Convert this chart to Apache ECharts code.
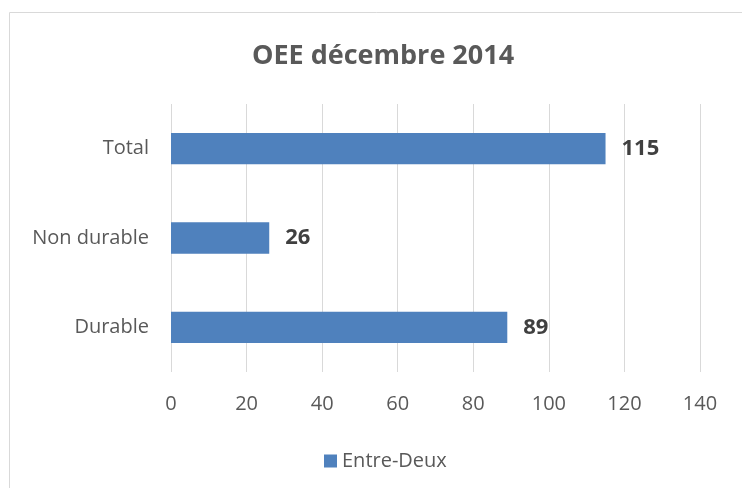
<!DOCTYPE html>
<html><head><meta charset="utf-8">
<script src="https://cdn.jsdelivr.net/npm/echarts@6/dist/echarts.min.js"></script>
<style>html,body{margin:0;padding:0;background:#fff}#c{width:742px;height:488px}</style>
</head><body><div id="c"></div>
<script>
const categories = ['Durable', 'Non durable', 'Total'];
const values = [89, 26, 115];
const seriesName = 'Entre-Deux';
const titleText = 'OEE décembre 2014';

const chart = echarts.init(document.getElementById('c'), null, {renderer: 'canvas'});
const font = '"Open Sans", "Noto Sans", sans-serif';
chart.setOption({
  animation: false,
  title: {text: titleText, left: 378, top: 38, textAlign: 'center',
    textStyle: {fontFamily: font, fontSize: 27, fontWeight: 'bold', color: '#595959'}},
  graphic: [{type: 'rect', shape: {x: 9.5, y: 12.5, width: 760, height: 500},
    style: {fill: 'none', stroke: '#d9d9d9', lineWidth: 1}, silent: true}],
  grid: {left: 171, right: 42, top: 104, bottom: 116},
  legend: {data: [seriesName], left: 319, top: 446, itemWidth: 13, itemHeight: 13, itemGap: 5,
    icon: 'rect', textStyle: {fontFamily: font, fontSize: 20, color: '#595959'}},
  xAxis: {type: 'value', min: 0, max: 140, interval: 20,
    axisLine: {show: false}, axisTick: {show: false},
    splitLine: {lineStyle: {color: '#d9d9d9', width: 1}},
    axisLabel: {fontFamily: font, fontSize: 20, color: '#595959', margin: 22}},
  yAxis: {type: 'category', data: categories,
    axisLine: {show: false}, axisTick: {show: false},
    axisLabel: {fontFamily: font, fontSize: 20, color: '#595959', margin: 22}},
  series: [{name: seriesName, type: 'bar', data: values, barWidth: '35%',
    itemStyle: {color: '#4f81bd'},
    label: {show: true, position: 'right', distance: 16, fontFamily: font, fontSize: 22,
      fontWeight: 'bold', color: '#404040'}}]
});
</script></body></html>
